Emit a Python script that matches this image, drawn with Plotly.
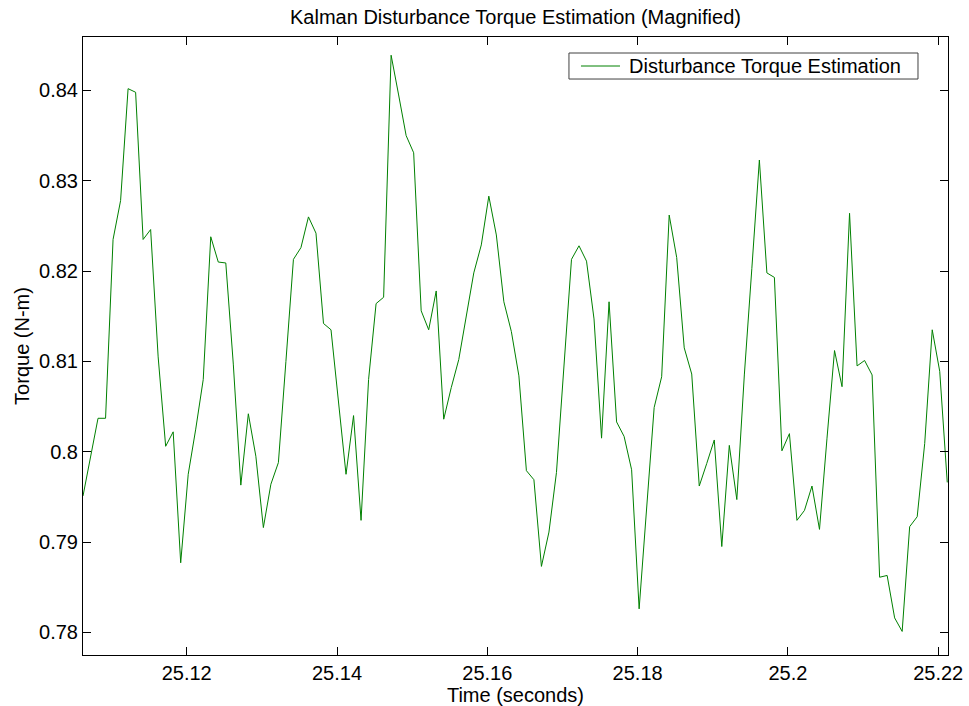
import plotly.graph_objects as go

t_start = 25.1062
dt = 0.001
torque = [
    0.7951, 0.7995, 0.8037, 0.8037, 0.8235, 0.8278, 0.8402, 0.8398, 0.8235, 0.8246,
    0.8105, 0.8006, 0.8022, 0.7877, 0.7975, 0.8025, 0.8080, 0.8238, 0.8210, 0.8209,
    0.8097, 0.7963, 0.8042, 0.7995, 0.7916, 0.7964, 0.7988, 0.8100, 0.8213, 0.8226,
    0.8260, 0.8242, 0.8142, 0.8135, 0.8055, 0.7975, 0.8040, 0.7924, 0.8080, 0.8164,
    0.8171, 0.8439, 0.8395, 0.8350, 0.8331, 0.8156, 0.8135, 0.8178, 0.8036, 0.8071,
    0.8102, 0.8151, 0.8198, 0.8229, 0.8283, 0.8240, 0.8166, 0.8133, 0.8084, 0.7979,
    0.7969, 0.7873, 0.7911, 0.7977, 0.8098, 0.8213, 0.8228, 0.8211, 0.8147, 0.8015,
    0.8166, 0.8033, 0.8017, 0.7980, 0.7826, 0.7933, 0.8049, 0.8083, 0.8262, 0.8215,
    0.8115, 0.8086, 0.7962, 0.7987, 0.8013, 0.7895, 0.8007, 0.7947, 0.8085, 0.8203,
    0.8323, 0.8198, 0.8193, 0.8001, 0.8020, 0.7924, 0.7935, 0.7962, 0.7914, 0.8015,
    0.8112, 0.8072, 0.8264, 0.8095, 0.8101, 0.8085, 0.7861, 0.7863, 0.7816, 0.7801,
    0.7917, 0.7928, 0.8009, 0.8135, 0.8089, 0.7966,
]
time = [round(t_start + dt * i, 4) for i in range(len(torque))]

series_name = "Disturbance Torque Estimation"
x_ticks = [25.12, 25.14, 25.16, 25.18, 25.2, 25.22]
x_tick_text = ["25.12", "25.14", "25.16", "25.18", "25.2", "25.22"]
y_ticks = [0.78, 0.79, 0.80, 0.81, 0.82, 0.83, 0.84]
y_tick_text = ["0.78", "0.79", "0.8", "0.81", "0.82", "0.83", "0.84"]

FONT = "Liberation Sans, Arial, Helvetica, sans-serif"
LINE_COLOR = "#008000"

fig = go.Figure()
fig.add_trace(go.Scatter(
    x=time, y=torque, mode="lines",
    name=series_name, showlegend=False,
    line=dict(color=LINE_COLOR, width=1),
))

axis_common = dict(
    showline=True, linecolor="black", linewidth=1, mirror="ticks",
    ticks="inside", ticklen=8, tickcolor="black", tickwidth=1,
    showgrid=False, zeroline=False,
    tickfont=dict(family=FONT, size=20, color="black"),
)

# MATLAB-style legend box (drawn in paper coordinates)
leg_x0, leg_x1 = 0.5618, 0.9653
leg_y0, leg_y1 = 0.9320, 0.9741
leg_yc = (leg_y0 + leg_y1) / 2
fig.add_shape(type="rect", xref="paper", yref="paper",
              x0=leg_x0, x1=leg_x1, y0=leg_y0, y1=leg_y1,
              line=dict(color="#404040", width=1), fillcolor="white", layer="above")
fig.add_shape(type="line", xref="paper", yref="paper",
              x0=0.5757, x1=0.6208, y0=leg_yc, y1=leg_yc,
              line=dict(color=LINE_COLOR, width=1), layer="above")
fig.add_annotation(xref="paper", yref="paper", x=0.6290, y=leg_yc,
                   xanchor="left", yanchor="middle", showarrow=False,
                   text=series_name,
                   font=dict(family=FONT, size=20, color="black"))

fig.update_layout(
    width=969, height=706,
    margin=dict(l=83, r=21, t=37, b=51),
    paper_bgcolor="white", plot_bgcolor="white",
    font=dict(family=FONT, size=20, color="black"),
    title=dict(
        text="Kalman Disturbance Torque Estimation (Magnified)",
        x=0.5, xref="paper", xanchor="center",
        y=1 - 17 / 706, yref="container", yanchor="middle",
        font=dict(family=FONT, size=20, color="black"),
    ),
    xaxis=dict(
        range=[25.1062, 25.2213], tickvals=x_ticks, ticktext=x_tick_text,
        title=dict(text="Time (seconds)", standoff=2,
                   font=dict(family=FONT, size=20, color="black")),
        automargin=False,
        **axis_common,
    ),
    yaxis=dict(
        range=[0.77749, 0.84592], tickvals=y_ticks, ticktext=y_tick_text,
        title=dict(text="Torque (N-m)", standoff=4,
                   font=dict(family=FONT, size=20, color="black")),
        automargin=False,
        **axis_common,
    ),
    showlegend=False,
)

fig.write_html("out.html")
